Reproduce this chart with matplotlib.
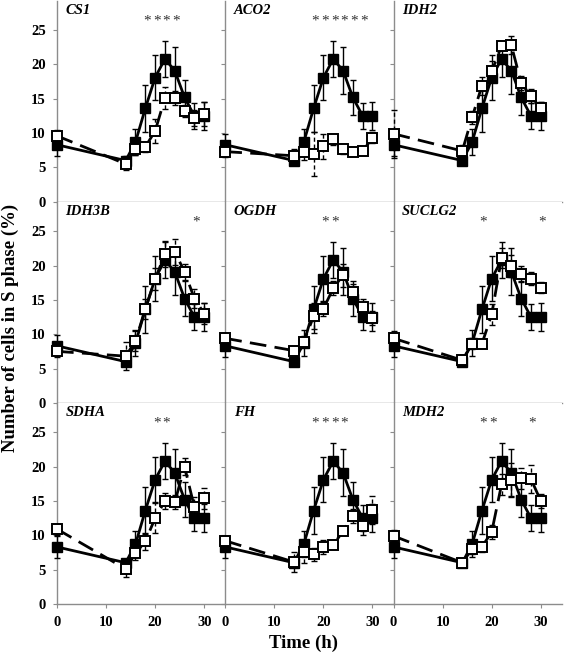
import matplotlib
matplotlib.use("Agg")
import matplotlib.pyplot as plt

plt.rcParams['font.family'] = ['Liberation Serif', 'DejaVu Serif']

time = [0, 14, 16, 18, 20, 22, 24, 26, 28, 30]
ctrl = [8.3, 6.0, 8.7, 13.6, 18.1, 20.8, 19.1, 15.2, 12.5, 12.5]
ctrl_err = [1.6, 0.6, 1.9, 3.4, 3.3, 2.6, 3.4, 2.6, 1.9, 2.0]

genes = ['CS1', 'ACO2', 'IDH2', 'IDH3B', 'OGDH', 'SUCLG2', 'SDHA', 'FH', 'MDH2']

kd_CS1 = [9.6, 5.5, 7.7, 8.0, 10.3, 15.1, 15.1, 13.2, 12.2, 12.8]
kd_ACO2 = [7.3, 6.7, 7.3, 6.9, 8.1, 9.1, 7.7, 7.3, 7.4, 9.3]
kd_IDH2 = [9.9, 7.4, 12.3, 16.9, 19.0, 22.7, 22.8, 17.3, 15.4, 13.6]
kd_IDH3B = [7.5, 6.8, 9.0, 13.7, 18.0, 21.7, 22.0, 19.1, 15.2, 13.0]
kd_OGDH = [9.4, 7.6, 8.9, 12.6, 13.7, 16.7, 18.6, 16.2, 14.0, 12.4]
kd_SUCLG2 = [9.4, 6.2, 8.6, 8.6, 12.9, 21.1, 19.9, 18.8, 18.1, 16.8]
kd_SDHA = [10.9, 5.1, 7.4, 9.1, 12.5, 15.0, 14.8, 20.0, 14.1, 15.4]
kd_FH = [9.2, 6.1, 7.5, 7.2, 8.3, 8.6, 10.6, 12.8, 11.3, 13.7]
kd_MDH2 = [9.9, 6.0, 8.0, 8.3, 10.5, 17.4, 18.1, 18.3, 18.2, 15.0]

err_CS1 = [0.8, 0.9, 0.9, 0.7, 1.7, 1.6, 1.0, 0.9, 1.2, 1.8]
err_ACO2 = [0.8, 1.0, 1.2, 3.2, 1.8, 0.8, 0.7, 0.6, 0.6, 0.8]
err_IDH2 = [3.5, 0.8, 0.9, 1.3, 1.5, 0.6, 1.3, 1.0, 1.0, 1.0]
err_IDH3B = [0.6, 2.0, 1.5, 1.5, 1.6, 1.9, 1.9, 1.2, 1.4, 1.5]
err_OGDH = [0.8, 0.7, 0.8, 1.9, 1.0, 1.0, 1.7, 1.1, 1.2, 1.0]
err_SUCLG2 = [1.0, 0.5, 0.8, 0.6, 1.5, 1.5, 1.6, 1.2, 1.0, 0.8]
err_SDHA = [0.8, 1.2, 1.0, 1.2, 2.2, 1.2, 1.0, 1.2, 1.5, 1.5]
err_FH = [0.6, 1.5, 1.5, 1.0, 1.0, 0.5, 0.5, 1.0, 1.2, 2.0]
err_MDH2 = [0.8, 0.5, 0.8, 0.7, 1.0, 1.5, 2.5, 1.5, 2.0, 1.0]

kd_values = [kd_CS1, kd_ACO2, kd_IDH2, kd_IDH3B, kd_OGDH, kd_SUCLG2, kd_SDHA, kd_FH, kd_MDH2]
kd_errors = [err_CS1, err_ACO2, err_IDH2, err_IDH3B, err_OGDH, err_SUCLG2, err_SDHA, err_FH, err_MDH2]

stars = [[18, 20, 22, 24], [18, 20, 22, 24, 26, 28], [], [28], [20, 22], [18, 30],
         [20, 22], [18, 20, 22, 24], [18, 20, 28]]

xticks = [0, 10, 20, 30]
yticks = [0, 5, 10, 15, 20, 25]

fig, axes = plt.subplots(3, 3, figsize=(5.67, 6.55), dpi=100, sharex=True, sharey=True)
fig.subplots_adjust(left=0.1005, right=0.991, top=0.999, bottom=0.078, wspace=0, hspace=0)

spine_col = '#8c8c8c'
for i, ax in enumerate(axes.flat):
    # control
    eb1 = ax.errorbar(time, ctrl, yerr=ctrl_err, fmt='none', ecolor='black', elinewidth=1.0,
                      capsize=2, capthick=1.0, zorder=2)
    for c in eb1[1] + tuple(eb1[2]):
        c.set_clip_on(False)
    ax.plot(time, ctrl, '-', color='black', lw=2.0, marker='s', markersize=7,
            markerfacecolor='black', markeredgecolor='black', zorder=3, clip_on=False)
    # knockdown
    eb = ax.errorbar(time, kd_values[i], yerr=kd_errors[i], fmt='none', ecolor='black',
                     elinewidth=1.0, capsize=2, capthick=1.0, zorder=4)
    eb[2][0].set_linestyle((0, (3, 2)))
    for c in eb[1] + tuple(eb[2]):
        c.set_clip_on(False)
    ax.plot(time, kd_values[i], color='black', lw=2.0, ls=(0, (6, 3)), marker='s',
            markersize=7, markerfacecolor='white', markeredgecolor='black',
            markeredgewidth=1.4, zorder=5, clip_on=False)
    for t in stars[i]:
        ax.text(t + 0.3, 26.3, '*', ha='center', va='center', fontsize=11, color='#333333')
    ax.text(0.05, 0.985, genes[i], transform=ax.transAxes, ha='left', va='top',
            fontsize=10.5, fontstyle='italic', fontweight='bold')
    ax.set_xlim(0, 34.3)
    ax.set_ylim(0, 29.3)
    ax.set_xticks(xticks)
    ax.set_yticks(yticks)
    for s in ['top', 'right']:
        ax.spines[s].set_visible(False)
    for s in ['left', 'bottom']:
        ax.spines[s].set_color(spine_col)
        ax.spines[s].set_linewidth(1.0)
        ax.spines[s].set_zorder(1)
    ax.tick_params(direction='out', length=3, width=0.8, color=spine_col,
                   labelsize=10.5)
    ax.tick_params(axis='x', pad=6)
    ax.tick_params(axis='y', pad=5)
    for lab in ax.get_xticklabels() + ax.get_yticklabels():
        lab.set_fontweight('bold')

fig.text(0.018, 0.5, 'Number of cells in S phase (%)', rotation=90, ha='center', va='center',
         fontsize=13.5, fontweight='bold')
fig.text(0.535, 0.018, 'Time (h)', ha='center', va='center', fontsize=13.5, fontweight='bold')

fig.savefig('out.png', dpi=100)
